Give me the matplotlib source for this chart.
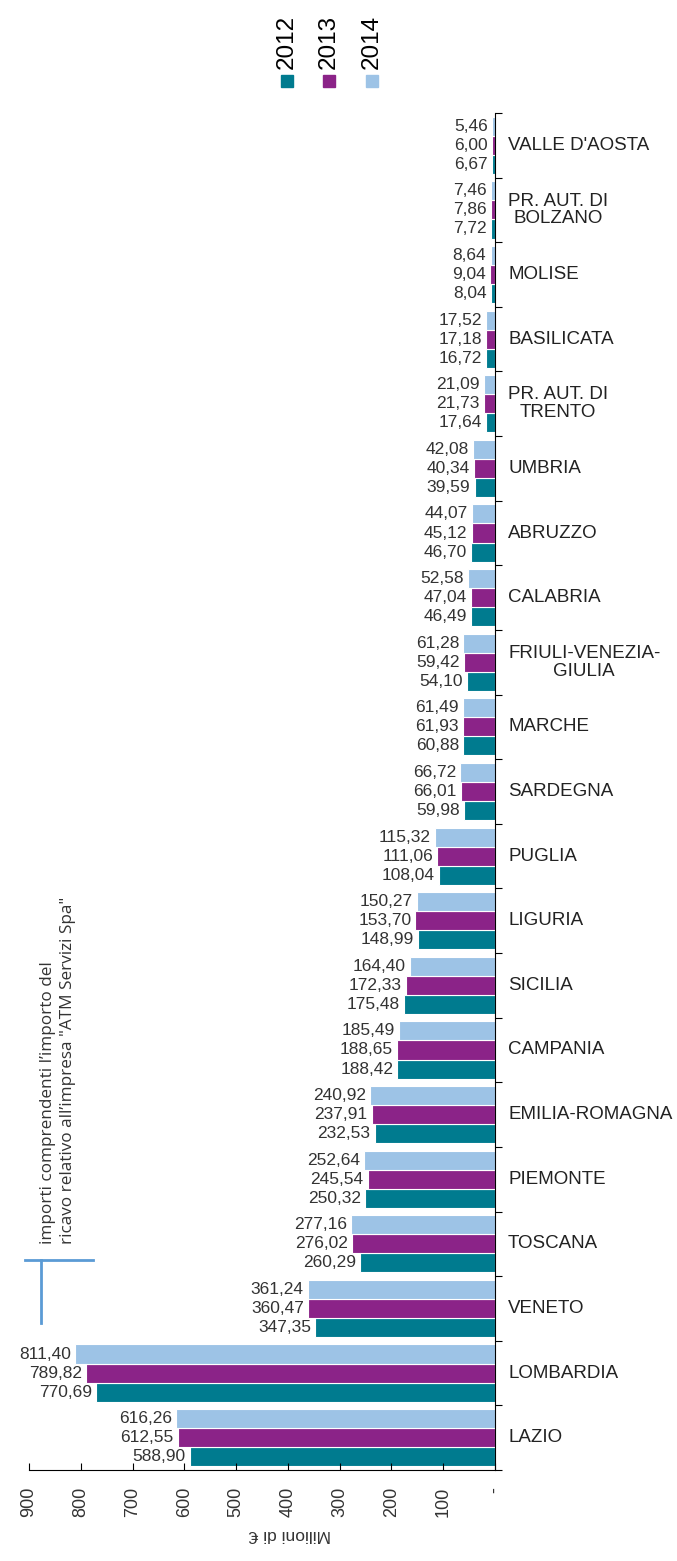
import numpy as np
import matplotlib.pyplot as plt
import matplotlib.transforms as mtransforms

plt.rcParams['font.family'] = ['Liberation Sans', 'DejaVu Sans']

regioni = ["VALLE D'AOSTA", "PR. AUT. DI\nBOLZANO", "MOLISE", "BASILICATA",
           "PR. AUT. DI\nTRENTO", "UMBRIA", "ABRUZZO", "CALABRIA",
           "FRIULI-VENEZIA-\nGIULIA", "MARCHE", "SARDEGNA", "PUGLIA", "LIGURIA",
           "SICILIA", "CAMPANIA", "EMILIA-ROMAGNA", "PIEMONTE", "TOSCANA",
           "VENETO", "LOMBARDIA", "LAZIO"]
v2012 = [6.67, 7.72, 8.04, 16.72, 17.64, 39.59, 46.70, 46.49, 54.10, 60.88, 59.98,
         108.04, 148.99, 175.48, 188.42, 232.53, 250.32, 260.29, 347.35, 770.69, 588.90]
v2013 = [6.00, 7.86, 9.04, 17.18, 21.73, 40.34, 45.12, 47.04, 59.42, 61.93, 66.01,
         111.06, 153.70, 172.33, 188.65, 237.91, 245.54, 276.02, 360.47, 789.82, 612.55]
v2014 = [5.46, 7.46, 8.64, 17.52, 21.09, 42.08, 44.07, 52.58, 61.28, 61.49, 66.72,
         115.32, 150.27, 164.40, 185.49, 240.92, 252.64, 277.16, 361.24, 811.40, 616.26]
anni = ["2012", "2013", "2014"]
colori = ["#007B8F", "#8B2388", "#9DC3E6"]
xticks = [900, 800, 700, 600, 500, 400, 300, 200, 100, 0]

W, H = 677, 1561
fig = plt.figure(figsize=(W / 100, H / 100), dpi=100)
ax = fig.add_axes([29 / W, 1 - 1470 / H, (495 - 29) / W, (1470 - 113) / H])

n = len(regioni)
y = np.arange(n)[::-1]
h = 0.295
testo = "#333333"
for vals, off, col in [(v2012, -h, colori[0]), (v2013, 0, colori[1]), (v2014, h, colori[2])]:
    ax.barh(y + off, vals, height=h, color=col, edgecolor="white", linewidth=0.8)
    for yy, v in zip(y + off, vals):
        ax.annotate(f"{v:.2f}".replace(".", ","), (v, yy), xytext=(-3, 0),
                    textcoords="offset points", ha="right", va="center",
                    fontsize=12.5, color=testo)

ax.set_xlim(900, 0)
ax.set_ylim(-0.5, n - 0.5)
ax.spines["left"].set_visible(False)
ax.spines["top"].set_visible(False)
ax.yaxis.tick_right()
ax.set_yticks(np.arange(n + 1) - 0.5)
ax.set_yticklabels([])
ax.tick_params(axis="y", direction="out", length=5, width=0.8)
ax.set_xticks(xticks)
ax.set_xticklabels([str(t) if t else "-" for t in xticks], rotation=90,
                   fontsize=13, color=testo)
ax.tick_params(axis="x", direction="in", length=5, width=0.8, pad=12)

tr = mtransforms.blended_transform_factory(ax.transAxes, ax.transData)
for yy, r in zip(y, regioni):
    ax.text(1 + 13 / 466, yy, r, transform=tr, ha="left", va="center",
            fontsize=13.5, color="#222222", linespacing=1.05, multialignment="center")

fig.text(290 / W, 1 - 1535 / H, "Milioni di €", rotation=180, ha="center", va="center",
         fontsize=12.5, color=testo)

# legenda
for xp, a, c in zip([287, 329, 372], anni, colori):
    fig.patches.append(plt.Rectangle(((xp - 6) / W, 1 - 87 / H), 12 / W, 12 / H,
                                     transform=fig.transFigure, color=c))
    fig.text(xp / W, 1 - 69 / H, a, rotation=90, ha="center", va="bottom",
             fontsize=17.5, color="black")

# nota
blu = "#5B9BD5"
fig.lines.append(plt.Line2D([25 / W, 93 / W], [1 - 1260 / H, 1 - 1260 / H],
                            transform=fig.transFigure, color=blu, lw=2))
fig.lines.append(plt.Line2D([41 / W, 41 / W], [1 - 1260 / H, 1 - 1323 / H],
                            transform=fig.transFigure, color=blu, lw=2))
fig.text(58 / W, 1 - 1244 / H,
         "importi comprendenti l’importo del\nricavo relativo all’impresa \"ATM Servizi Spa\"",
         rotation=90, ha="center", va="bottom", fontsize=12.3, color=testo,
         family="Open Sans", linespacing=1.3, multialignment="left")

fig.savefig("out.png", dpi=100)
